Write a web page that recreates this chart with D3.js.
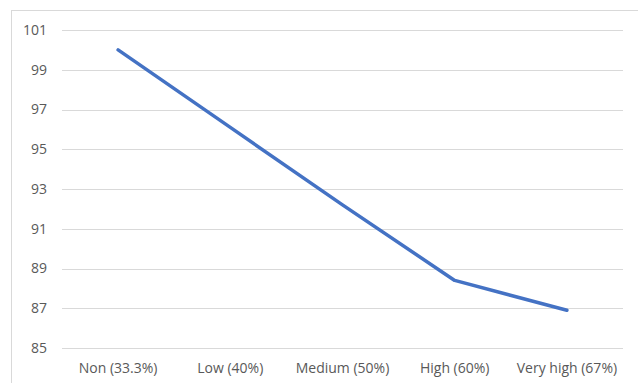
<!DOCTYPE html>
<html><head><meta charset="utf-8">
<script src="https://cdn.jsdelivr.net/npm/d3@7"></script>
<style>body{margin:0;background:#fff;}svg{display:block;}text{font-family:"Open Sans",sans-serif;fill:#595959;}</style>
</head><body>
<script>
const categories = ["Non (33.3%)", "Low (40%)", "Medium (50%)", "High (60%)", "Very high (67%)"];
const values = [100, 96.1, 92.2, 88.4, 86.9];
const yTicks = [85, 87, 89, 91, 93, 95, 97, 99, 101];

const W = 638, H = 383;
const svg = d3.select("body").append("svg").attr("width", W).attr("height", H);

svg.append("rect").attr("x", 11.5).attr("y", 10.5).attr("width", 700).attr("height", 500)
  .attr("fill", "none").attr("stroke", "#d9d9d9").attr("stroke-width", 1);

const x = d3.scaleBand().domain(categories).range([62, 623]);
const y = d3.scaleLinear().domain([85, 101]).range([348, 30]);

const grid = svg.append("g");
grid.selectAll("line").data(yTicks).join("line")
  .attr("x1", 62).attr("x2", 623)
  .attr("y1", d => Math.round(y(d)) + 0.5).attr("y2", d => Math.round(y(d)) + 0.5)
  .attr("stroke", "#d9d9d9").attr("stroke-width", 1);

const yAxis = svg.append("g").attr("transform", "translate(47,0)")
  .call(d3.axisLeft(y).tickValues(yTicks).tickSize(0).tickPadding(0));
yAxis.select(".domain").remove();
yAxis.selectAll("text").attr("font-size", "14px").style("font-family", "'Open Sans',sans-serif").attr("fill", "#595959");

const xAxis = svg.append("g").attr("transform", "translate(0,348)")
  .call(d3.axisBottom(x).tickSize(0).tickPadding(15));
xAxis.select(".domain").remove();
xAxis.selectAll("text").attr("font-size", "14px").style("font-family", "'Open Sans',sans-serif").attr("fill", "#595959");

const line = d3.line().x((d, i) => x(categories[i]) + x.bandwidth() / 2).y(d => y(d));
svg.append("path").datum(values).attr("d", line)
  .attr("fill", "none").attr("stroke", "#4472C4").attr("stroke-width", 3.5)
  .attr("stroke-linejoin", "round").attr("stroke-linecap", "round");
</script>
</body></html>
